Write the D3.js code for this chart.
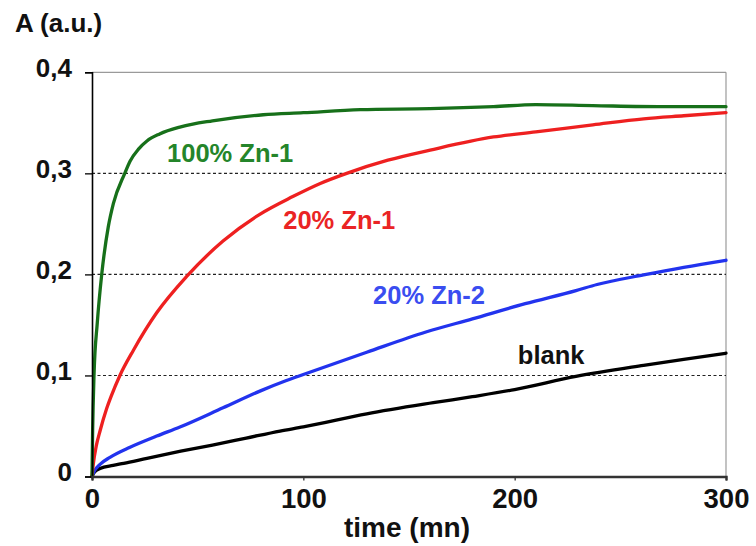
<!DOCTYPE html>
<html>
<head>
<meta charset="utf-8">
<script src="https://cdn.jsdelivr.net/npm/d3@7"></script>
<style>
  html, body { margin: 0; padding: 0; background: #fff; }
  svg { display: block; font-family: "Liberation Sans", Arial, Helvetica, sans-serif; }
</style>
</head>
<body>
<svg id="chart" width="756" height="546"></svg>
<script>
// Absorbance kinetics: time (mn) vs A (a.u.)
const yTicks = [0, 0.1, 0.2, 0.3, 0.4];
const yTickLabels = ["0", "0,1", "0,2", "0,3", "0,4"];
const xTicks = [0, 100, 200, 300];
const xTickLabels = ["0", "100", "200", "300"];

const zn100_1_t = [0, 0.3, 0.95, 2.5, 4.6, 7.7, 10.1, 15.5, 18, 22, 26, 32, 42, 57, 81, 100, 127, 160, 190, 210, 237, 270, 300];
const zn100_1_v = [0, 0.045, 0.1, 0.152, 0.2, 0.247, 0.27, 0.3, 0.312, 0.324, 0.332, 0.339, 0.346, 0.352, 0.358, 0.36, 0.363, 0.364, 0.366, 0.368, 0.367, 0.366, 0.366];

const zn20_1_t = [0, 0.6, 2, 3.8, 6.9, 9, 13.2, 19.6, 30.6, 44.8, 62, 79, 95, 108, 120.5, 140, 160, 190, 210, 237, 261, 280, 300];
const zn20_1_v = [0, 0.012, 0.03, 0.045, 0.067, 0.079, 0.1, 0.125, 0.162, 0.198, 0.233, 0.259, 0.277, 0.29, 0.3, 0.313, 0.323, 0.336, 0.341, 0.348, 0.354, 0.357, 0.36];

const zn20_2_t = [0, 1, 3.8, 8.5, 18, 30.6, 41.6, 62, 80, 92, 100, 130, 158, 180, 205, 229, 239, 261, 280, 300];
const zn20_2_v = [0, 0.005, 0.012, 0.019, 0.029, 0.04, 0.049, 0.068, 0.085, 0.095, 0.101, 0.123, 0.143, 0.156, 0.171, 0.184, 0.19, 0.1995, 0.207, 0.214];

const blank_t = [0, 1, 3.8, 10, 15, 26, 42, 57, 73, 89, 100, 130, 161.5, 180, 200, 229, 261, 280, 300];
const blank_v = [0, 0.004, 0.008, 0.011, 0.013, 0.018, 0.025, 0.031, 0.038, 0.045, 0.049, 0.062, 0.073, 0.079, 0.086, 0.099, 0.110, 0.116, 0.122];

const seriesNames = ["blank", "20% Zn-2", "20% Zn-1", "100% Zn-1"];
const seriesT = [blank_t, zn20_2_t, zn20_1_t, zn100_1_t];
const seriesV = [blank_v, zn20_2_v, zn20_1_v, zn100_1_v];
const lineColors = ["#000000", "#2233ee", "#ee2020", "#17701a"];
const textColors = ["#111111", "#3a4df0", "#ea2424", "#24852a"];
// label anchor points in data units (time, A)
const labelT = [201.5, 133, 90.5, 35.5];
const labelA = [0.111, 0.171, 0.245, 0.311];

const svg = d3.select("#chart");
const x = d3.scaleLinear().domain([0, 300]).range([92, 726]);
const y = d3.scaleLinear().domain([0, 0.4]).range([476.5, 72.3]);

// frame (top and right)
svg.append("line").attr("x1", x(0)).attr("x2", x(300)).attr("y1", y(0.4)).attr("y2", y(0.4))
  .attr("stroke", "#9a9a9a").attr("stroke-width", 1.2);
svg.append("line").attr("x1", x(300)).attr("x2", x(300)).attr("y1", y(0.4)).attr("y2", y(0))
  .attr("stroke", "#9a9a9a").attr("stroke-width", 1.2);

// dashed gridlines
svg.append("g").selectAll("line").data(yTicks.filter(d => d > 0 && d < 0.4)).join("line")
  .attr("x1", x(0)).attr("x2", x(300))
  .attr("y1", d => y(d)).attr("y2", d => y(d))
  .attr("stroke", "#222").attr("stroke-width", 1.1)
  .attr("stroke-dasharray", "3,2.5");

// curves
const line = d3.line().curve(d3.curveMonotoneX).x(d => x(d[0])).y(d => y(d[1]));
seriesT.forEach((ts, i) => {
  const pts = ts.map((t, j) => [t, seriesV[i][j]]);
  svg.append("path").datum(pts)
    .attr("d", line)
    .attr("fill", "none")
    .attr("stroke", lineColors[i])
    .attr("stroke-width", 3.3)
    .attr("stroke-linejoin", "round")
    .attr("stroke-linecap", "round");
});

// y axis
const yAxis = svg.append("g").attr("transform", `translate(${x(0)},0)`)
  .call(d3.axisLeft(y).tickValues(yTicks).tickSize(7).tickPadding(13)
    .tickFormat((d, i) => yTickLabels[i]));
yAxis.select(".domain").attr("stroke", "#000").attr("stroke-width", 1.6);
yAxis.selectAll(".tick line").attr("stroke", "#000").attr("stroke-width", 1.3);
yAxis.selectAll(".tick text")
  .attr("fill", "#111").attr("font-size", 26).attr("font-weight", "bold")
  .attr("font-family", "Liberation Sans, Arial, sans-serif")
  .attr("dy", "0.16em");

// x axis
const xAxis = svg.append("g").attr("transform", `translate(0,${y(0)})`)
  .call(d3.axisBottom(x).tickValues(xTicks).tickSize(4).tickPadding(8)
    .tickFormat((d, i) => xTickLabels[i]));
xAxis.select(".domain").attr("stroke", "#333").attr("stroke-width", 2.4);
xAxis.selectAll(".tick line").attr("stroke", "#333").attr("stroke-width", 1.3);
xAxis.selectAll(".tick text")
  .attr("fill", "#111").attr("font-size", 27.5).attr("font-weight", "bold")
  .attr("font-family", "Liberation Sans, Arial, sans-serif");

// axis titles
svg.append("text").attr("x", 15).attr("y", 32)
  .attr("font-size", 26).attr("font-weight", "bold").attr("fill", "#111")
  .text("A (a.u.)");
svg.append("text").attr("x", 407).attr("y", 537).attr("text-anchor", "middle")
  .attr("font-size", 28).attr("font-weight", "bold").attr("fill", "#111")
  .text("time (mn)");

// series labels
seriesNames.forEach((name, i) => {
  svg.append("text")
    .attr("x", x(labelT[i])).attr("y", y(labelA[i]))
    .attr("font-size", 25.5).attr("font-weight", "bold")
    .attr("fill", textColors[i])
    .text(name);
});
</script>
</body>
</html>
